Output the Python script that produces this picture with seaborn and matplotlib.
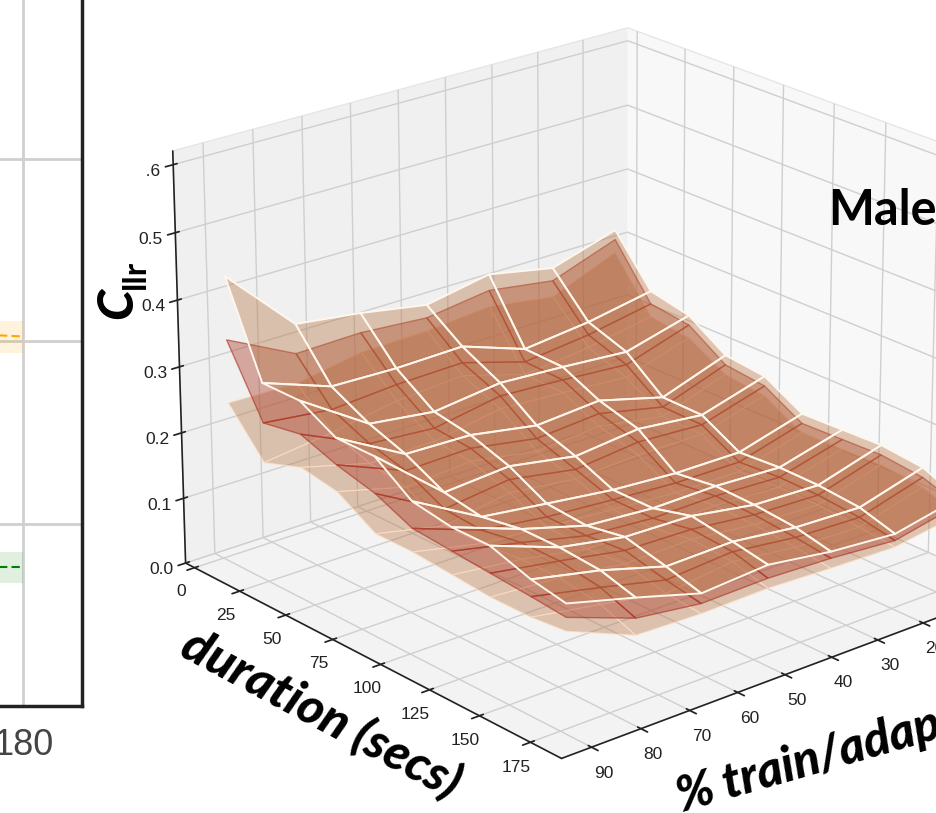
import numpy as np
import pandas as pd
import matplotlib
matplotlib.use("Agg")
import matplotlib.pyplot as plt
from matplotlib.patches import Rectangle
import seaborn as sns

W, H = 937, 813

# left panel
left_x = [150, 180]
orange_mean = [0.2040, 0.2025]
orange_low = [0.1934, 0.1934]
orange_high = [0.2112, 0.2112]
green_mean = [0.0760, 0.0760]
green_low = [0.0672, 0.0672]
green_high = [0.0842, 0.0842]
left_yticks = [0.0, 0.1, 0.2, 0.3]
left_xticks = [180]

# right panel
duration = [5, 24, 44, 63, 83, 102, 122, 141, 161, 178]
train_pct = [90, 76, 62.5, 48.5, 35, 21, 7]
z_ticks = [0.0, 0.1, 0.2, 0.3, 0.4, 0.5, 0.6]
pct_ticks = [10, 20, 30, 40, 50, 60, 70, 80, 90]
dur_ticks = [0, 25, 50, 75, 100, 125, 150, 175]

cllr_upper = [
    [.435, .333, .32, .302, .32, .30, .33],
    [.30, .263, .26, .262, .228, .239, .257],
    [.30, .233, .22, .232, .226, .218, .244],
    [.27, .213, .21, .192, .199, .172, .206],
    [.27, .183, .19, .172, .182, .171, .199],
    [.23, .173, .16, .147, .14, .139, .166],
    [.22, .183, .155, .147, .148, .143, .168],
    [.22, .183, .165, .162, .146, .142, .17],
    [.20, .178, .15, .152, .14, .136, .163],
    [.19, .163, .135, .142, .128, .12, .14],
]
cllr_mean = [
    [.34, .288, .29, .282, .295, .28, .315],
    [.24, .228, .235, .237, .208, .219, .237],
    [.25, .203, .195, .212, .206, .198, .229],
    [.23, .188, .19, .172, .179, .157, .191],
    [.215, .158, .17, .152, .162, .156, .184],
    [.19, .153, .14, .132, .125, .124, .151],
    [.185, .163, .14, .132, .133, .128, .153],
    [.18, .163, .145, .142, .131, .127, .155],
    [.175, .153, .13, .137, .125, .121, .148],
    [.17, .133, .12, .122, .118, .11, .13],
]
cllr_lower = [
    [.245, .243, .26, .262, .27, .255, .295],
    [.18, .193, .21, .217, .188, .199, .217],
    [.20, .173, .175, .192, .186, .178, .209],
    [.19, .163, .17, .152, .159, .142, .176],
    [.155, .133, .15, .137, .142, .141, .169],
    [.155, .133, .125, .117, .11, .109, .136],
    [.15, .138, .12, .117, .118, .113, .138],
    [.145, .138, .125, .127, .116, .112, .14],
    [.145, .128, .11, .122, .11, .106, .133],
    [.15, .108, .105, .107, .103, .10, .115],
]

sns.set_theme(style="white")
plt.rcParams["font.family"] = ["Liberation Sans", "DejaVu Sans"]

fig = plt.figure(figsize=(W / 100, H / 100), dpi=100, facecolor="white")

def box(l, t, r, b):
    return [l / W, 1 - b / H, (r - l) / W, (b - t) / H]

axl = fig.add_axes(box(-37, -5, 82, 706))
dfo = pd.DataFrame({"x": left_x, "y": orange_mean})
dfg = pd.DataFrame({"x": left_x, "y": green_mean})
axl.fill_between(left_x, orange_low, orange_high, color="#ffa500", alpha=0.13, lw=0, zorder=3)
axl.fill_between(left_x, green_low, green_high, color="#008000", alpha=0.12, lw=0, zorder=3)
sns.lineplot(data=dfo, x="x", y="y", ax=axl, color="#ffa500", lw=1.5, ls=(0, (4, 2)), zorder=4)
sns.lineplot(data=dfg, x="x", y="y", ax=axl, color="#008000", lw=1.5, ls=(0, (4, 2)), zorder=4)
axl.set_xlim(150, 209.5)
axl.set_ylim(0, 0.3896)
axl.set_xticks(left_xticks)
axl.set_xticklabels(["180"], fontsize=26, color="#444444")
axl.set_yticks(left_yticks)
axl.set_yticklabels([])
axl.set_xlabel("")
axl.set_ylabel("")
axl.grid(True, color="#cfcfcf", lw=2)
axl.set_axisbelow(True)
axl.tick_params(length=0, pad=16)
for s in ("top", "left"):
    axl.spines[s].set_visible(False)
for s in ("right", "bottom"):
    axl.spines[s].set_color("#222222")
    axl.spines[s].set_linewidth(2.5)

ax = fig.add_axes(box(83, -114, 1083, 886), projection="3d", computed_zorder=False)
ax.patch.set_alpha(0)
X, Y = np.meshgrid(train_pct, duration)
tan = (0.72, 0.47, 0.28, 0.40)
red = (0.66, 0.22, 0.14, 0.40)
ax.plot_surface(X, Y, np.array(cllr_lower), rstride=1, cstride=1, shade=False,
                color=tan, edgecolor=(1, 0.88, 0.78, 0.7), linewidth=0.9, zorder=1)
ax.plot_surface(X, Y, np.array(cllr_mean), rstride=1, cstride=1, shade=False,
                color=red, edgecolor=(0.68, 0.18, 0.12, 0.6), linewidth=1.0, zorder=2)
ax.plot_surface(X, Y, np.array(cllr_upper), rstride=1, cstride=1, shade=False,
                color=tan, edgecolor=(1, 0.97, 0.93, 1), linewidth=1.4, zorder=3)

ax.set_xlim(0, 96)
ax.set_ylim(-5, 190)
ax.set_zlim(0, 0.62)
ax.set_xticks(pct_ticks)
ax.set_yticks(dur_ticks)
ax.set_zticks(z_ticks)
ax.set_zticklabels(["0.0", "0.1", "0.2", "0.3", "0.4", "0.5", "0.6"])
ax.view_init(elev=22, azim=49.5)
ax.set_box_aspect((4, 4, 3), zoom=0.925)
ax.tick_params(labelsize=12.5, colors="#222222", pad=3)
for axis, pane in ((ax.xaxis, "#f8f8f8"), (ax.yaxis, "#f0f0f0"), (ax.zaxis, "#f3f3f3")):
    axis.set_pane_color(pane)
    axis.pane.set_edgecolor("#e6e6e6")
    axis.line.set_color("#222222")
    axis.line.set_linewidth(1.2)
    axis._axinfo["grid"].update(color="#cfcfcf", linewidth=1.0)

# the reference's top z label is cropped on its left side
fig.add_artist(Rectangle((133 / W, 1 - 178 / H), 13 / W, 28 / H, transform=fig.transFigure,
                         facecolor="white", edgecolor="none", zorder=5))

bold = dict(family="Lato", fontweight="black", color="black")
fig.text(828 / W, 1 - 225 / H, "Male", fontsize=35, ha="left", va="baseline", family="Lato", fontweight="bold", color="black")
fig.text(321 / W, 1 - 714 / H, "duration (secs)", fontsize=36, style="italic", rotation=-28,
         rotation_mode="anchor", ha="center", va="center", **bold)
fig.text(682 / W, 1 - 812 / H, "% train/adapt", fontsize=35, style="italic", rotation=16,
         rotation_mode="anchor", ha="left", va="baseline", **bold)
fig.text(118 / W, 1 - 303 / H, "C", fontsize=36, style="italic", rotation=90, ha="center", va="center", **bold)
fig.text(135 / W, 1 - 274 / H, "llr", fontsize=24, rotation=90, ha="center", va="center", family="Lato", fontweight="bold", color="black")

fig.savefig("out.png", dpi=100)
